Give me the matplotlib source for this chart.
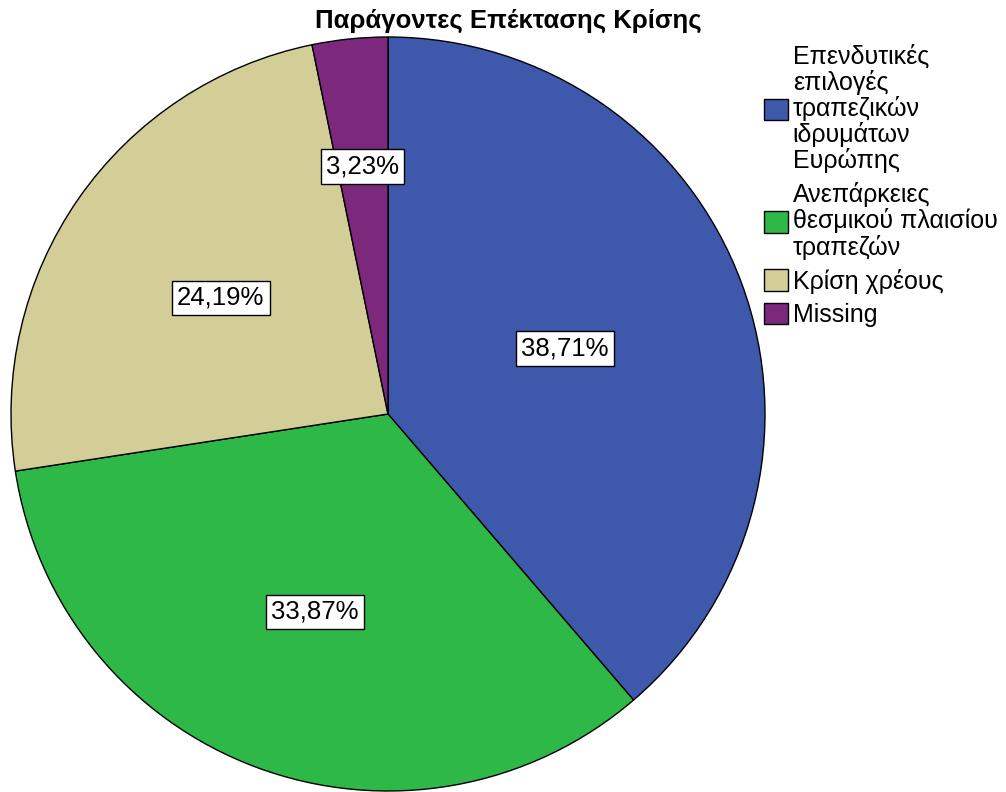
import matplotlib
matplotlib.use("Agg")
import matplotlib.pyplot as plt
import numpy as np

plt.rcParams['font.family'] = ['Liberation Sans', 'DejaVu Sans']

title = "Παράγοντες Επέκτασης Κρίσης"
categories = [
    "Επενδυτικές\nεπιλογές\nτραπεζικών\nιδρυμάτων\nΕυρώπης",
    "Ανεπάρκειες\nθεσμικού πλαισίου\nτραπεζών",
    "Κρίση χρέους",
    "Missing",
]
percentages = [38.71, 33.87, 24.19, 3.23]
colors = ["#3E58AC", "#2EB848", "#D3CE97", "#7C287D"]
label_radius = [0.50, 0.56, 0.54, 0.66]

W, H = 1006, 792
fig = plt.figure(figsize=(W / 100, H / 100), dpi=100)
fig.patch.set_facecolor("white")

# square axes holding the pie
r_px = 377
cx, cy = 388, 414
ax = fig.add_axes([(cx - r_px) / W, (H - cy - r_px) / H, 2 * r_px / W, 2 * r_px / H])
wedges, _ = ax.pie(percentages, colors=colors, startangle=90, counterclock=False,
                   radius=1.0, wedgeprops=dict(edgecolor="black", linewidth=1.0))
ax.set_xlim(-1, 1)
ax.set_ylim(-1, 1)
ax.set_aspect("equal")
ax.axis("off")

for w, pct, rr in zip(wedges, percentages, label_radius):
    mid = np.deg2rad((w.theta1 + w.theta2) / 2)
    ax.text(rr * np.cos(mid), rr * np.sin(mid), f"{pct:.2f}%".replace(".", ","),
            ha="center", va="center", fontsize=18.5,
            bbox=dict(boxstyle="square,pad=0.2", facecolor="white",
                      edgecolor="black", linewidth=1.0))

fig.text(508 / W, 1 - 21 / H, title, ha="center", va="center",
         fontsize=18.5, fontweight="bold")

leg = fig.legend(wedges, categories, loc="upper left",
                 bbox_to_anchor=(764 / W, 1 - 44 / H), frameon=False,
                 fontsize=18, handlelength=0.95, handleheight=0.95,
                 handletextpad=0.2, labelspacing=0.36, borderpad=0, borderaxespad=0)
for t in leg.get_texts():
    t.set_linespacing(1.06)
for p in leg.get_patches():
    p.set_linewidth(1.0)
    p.set_edgecolor("black")

fig.savefig("out.png", dpi=100)
